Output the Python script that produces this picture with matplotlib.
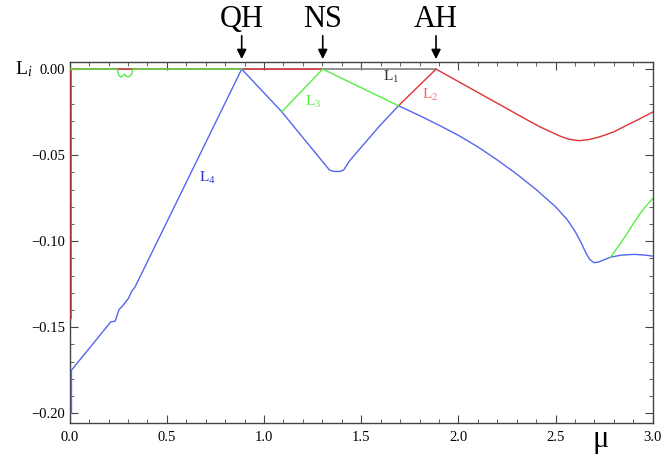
import numpy as np
import matplotlib
matplotlib.use("Agg")
import matplotlib.pyplot as plt
from matplotlib.ticker import MultipleLocator, FuncFormatter

plt.rcParams["font.family"] = ["Liberation Serif", "DejaVu Serif"]
plt.rcParams["mathtext.fontset"] = "custom"
plt.rcParams["mathtext.rm"] = "Liberation Serif"
plt.rcParams["mathtext.it"] = "Liberation Serif:italic"

nan = np.nan

# L1 - zero exponent
mu1 = [0.0, 1.885]
L1 = [0.0, 0.0]

# L2 (red), NaN separates pieces
mu2 = [0.007, 0.007, nan, 0.0, 1.302, nan,
       1.692, 1.885, 2.371, 2.42, 2.474, 2.52, 2.57, 2.620, 2.67, 2.72, 2.76,
       2.801, 2.86, 2.921, 3.0]
L2 = [-0.145, 0.0, nan, 0.0, 0.0, nan,
      -0.0213, 0.0, -0.0306, -0.0336, -0.0364, -0.0388, -0.0408, -0.0416, -0.0410, -0.0396, -0.0381,
      -0.0364, -0.0330, -0.0296, -0.025]

# L3 (green)
mu3 = [0.0, 0.245, 0.252, 0.262, 0.272, 0.282, 0.292, 0.305, 0.318, 0.325, 0.885, nan,
       1.091, 1.302, 1.692, nan,
       2.784, 2.82, 2.869, 2.90, 2.938, 2.97, 3.0]
L3 = [0.0, 0.0, -0.0035, -0.0047, -0.0040, -0.0030, -0.0042, -0.0045, -0.0030, 0.0, 0.0, nan,
      -0.0248, 0.0, -0.0213, nan,
      -0.1092, -0.1035, -0.0955, -0.0898, -0.0835, -0.0790, -0.0752]

# L4 (blue)
mu4 = [0.009, 0.009, 0.211, 0.234, 0.254, 0.271, 0.302, 0.320, 0.335, 0.885,
       1.091, 1.337, 1.360, 1.390, 1.409, 1.443, 1.598, 1.692, 1.80, 1.90,
       2.00, 2.10, 2.20, 2.30, 2.40, 2.50, 2.56, 2.60, 2.63, 2.655,
       2.675, 2.697, 2.72, 2.75, 2.784, 2.84, 2.904, 2.95, 3.0]
L4 = [-0.200, -0.175, -0.147, -0.1465, -0.1397, -0.1378, -0.1333, -0.1289, -0.1269, 0.0,
      -0.0248, -0.0587, -0.0595, -0.0595, -0.0587, -0.0529, -0.0326, -0.0213, -0.0270, -0.0326,
      -0.0385, -0.0452, -0.0528, -0.0610, -0.0700, -0.0800, -0.0875, -0.0942, -0.1005, -0.1065,
      -0.1105, -0.1125, -0.1122, -0.1108, -0.1093, -0.1081, -0.1077, -0.1080, -0.1087]

# bifurcation points
bif_names = ["QH", "NS", "AH"]
bif_mu = [0.885, 1.302, 1.885]

fig = plt.figure(figsize=(6.64, 4.55), dpi=100)
ax = fig.add_axes([0.105, 0.070, 0.878, 0.794])

ax.plot(mu1, L1, color="#8a8a8a", lw=1.3)
ax.plot(mu2, L2, color="#dd3333", lw=1.0, zorder=3)
ax.plot(mu4, L4, color="#5566ee", lw=1.0, zorder=3)
ax.plot(mu3, L3, color="#55ee44", lw=1.0, zorder=3)

ax.text(0.706, -0.0634, r"$\mathrm{L}_4$", color="#3333cc", fontsize=11, ha="center", va="center")
ax.text(1.253, -0.0192, r"$\mathrm{L}_3$", color="#55ee44", fontsize=11, ha="center", va="center")
ax.text(1.655, -0.0046, r"$\mathrm{L}_1$", color="#333333", fontsize=11, ha="center", va="center")
ax.text(1.856, -0.0151, r"$\mathrm{L}_2$", color="#ff6666", fontsize=11, ha="center", va="center")

for name, m in zip(bif_names, bif_mu):
    ax.annotate("", xy=(m, 1.0), xycoords=("data", "axes fraction"),
                xytext=(m, 1.08), textcoords=("data", "axes fraction"),
                arrowprops=dict(arrowstyle="-|>", color="black", lw=1.2, mutation_scale=14))
    ax.text(m, 1.118, name, transform=ax.get_xaxis_transform(), fontsize=22,
            ha="center", va="center")

ax.set_xlim(0, 3.0)
ax.set_ylim(-0.2058, 0.0042)
ax.xaxis.set_major_locator(MultipleLocator(0.5))
ax.xaxis.set_minor_locator(MultipleLocator(0.1))
ax.yaxis.set_major_locator(MultipleLocator(0.05))
ax.yaxis.set_minor_locator(MultipleLocator(0.01))
ax.xaxis.set_major_formatter(FuncFormatter(lambda v, p: f"{v:.1f}"))
ax.yaxis.set_major_formatter(FuncFormatter(lambda v, p: f"{v:.2f}".replace("-", "\u2212")
                                           if abs(v) > 1e-9 else "0.00"))
ax.tick_params(which="both", direction="in", top=True, right=True, labelsize=10.5, color="#444444")
ax.tick_params(which="major", length=6, width=0.8)
ax.tick_params(which="minor", length=3, width=0.6)
ax.tick_params(axis="x", pad=6)
for s in ax.spines.values():
    s.set_color("#444444")
    s.set_linewidth(1.0)

fig.text(0.035, 0.848, r"$\mathrm{L}_i$", fontsize=14, ha="center", va="center")
fig.text(0.904, 0.035, "μ", fontsize=22, ha="center", va="center")

fig.savefig("out.png", dpi=100)
